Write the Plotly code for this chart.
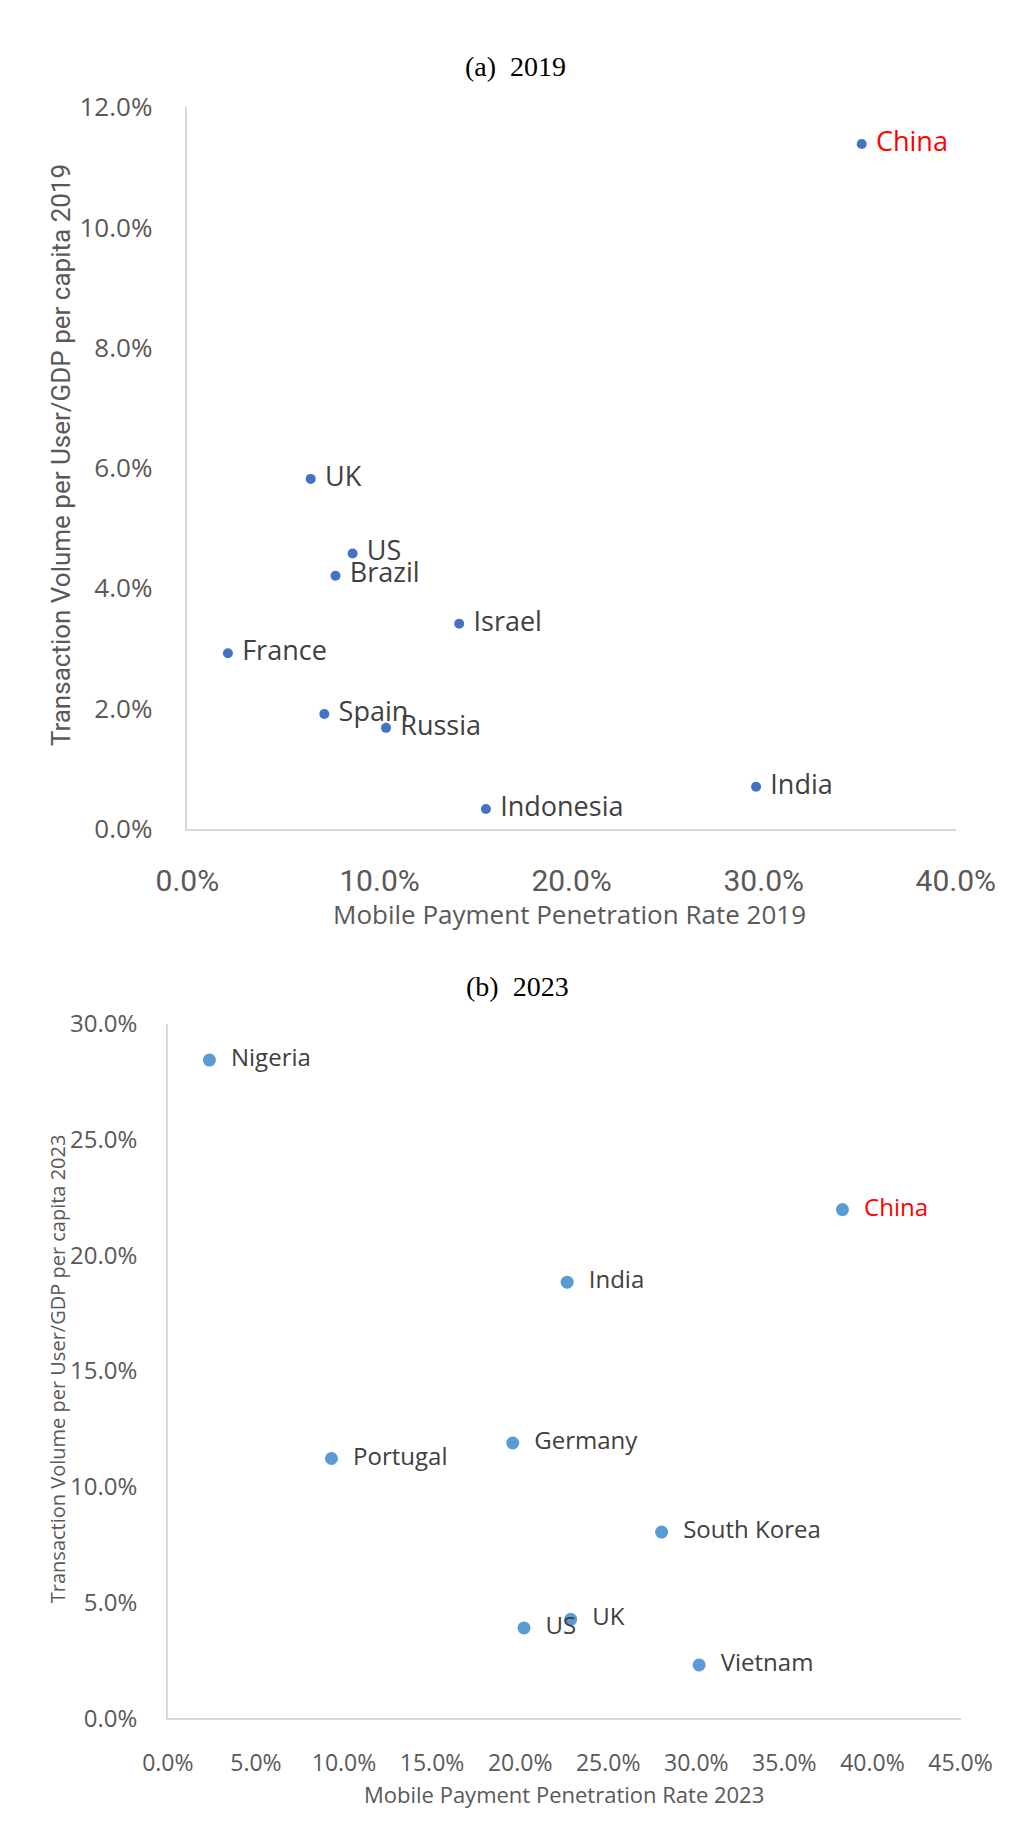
import plotly.graph_objects as go

# ---- data (a) 2019 ----
countries_2019 = ["China", "UK", "US", "Brazil", "Israel", "France", "Spain", "Russia", "India", "Indonesia"]
penetration_2019 = [0.351, 0.0642, 0.086, 0.0771, 0.1415, 0.0211, 0.0713, 0.1034, 0.296, 0.1554]
volume_2019 = [0.1139, 0.0582, 0.0458, 0.0421, 0.0341, 0.0292, 0.0191, 0.0168, 0.0070, 0.0033]

# ---- data (b) 2023 ----
countries_2023 = ["Nigeria", "China", "India", "Portugal", "Germany", "South Korea", "US", "UK", "Vietnam"]
penetration_2023 = [0.0236, 0.383, 0.2267, 0.0929, 0.1958, 0.2803, 0.2022, 0.2287, 0.3016]
volume_2023 = [0.2844, 0.2198, 0.1884, 0.1122, 0.1189, 0.0804, 0.0390, 0.0427, 0.0230]

x_ticks_2019 = [0, 0.10, 0.20, 0.30, 0.40]
y_ticks_2019 = [0, 0.02, 0.04, 0.06, 0.08, 0.10, 0.12]
x_ticks_2023 = [0, 0.05, 0.10, 0.15, 0.20, 0.25, 0.30, 0.35, 0.40, 0.45]
y_ticks_2023 = [0, 0.05, 0.10, 0.15, 0.20, 0.25, 0.30]

W, H = 1034, 1843
LABEL = "#404040"
AX = "#595959"
LINE = "#D9D9D9"
NB = "\u00a0"


def px(x):
    return x / W


def py(y):
    return 1 - y / H


def lab_colors(names):
    return ["#FF0000" if n == "China" else LABEL for n in names]


fig = go.Figure()
fig.add_trace(go.Scatter(
    x=penetration_2019, y=volume_2019, mode="markers+text",
    text=countries_2019, texttemplate=NB + "%{text}", textposition="middle right",
    textfont=dict(family="Open Sans", size=27, color=lab_colors(countries_2019)),
    marker=dict(color="#4472C4", size=10),
    xaxis="x", yaxis="y", showlegend=False, cliponaxis=False, hoverinfo="skip",
))
fig.add_trace(go.Scatter(
    x=penetration_2023, y=volume_2023, mode="markers+text",
    text=countries_2023, texttemplate=NB + NB + "%{text}", textposition="middle right",
    textfont=dict(family="Open Sans", size=24, color=lab_colors(countries_2023)),
    marker=dict(color="#5B9BD5", size=13),
    xaxis="x2", yaxis="y2", showlegend=False, cliponaxis=False, hoverinfo="skip",
))

common = dict(showgrid=False, zeroline=False, showline=True, linecolor=LINE, linewidth=1.5,
              ticks="", fixedrange=True)

fig.update_layout(
    width=W, height=H,
    margin=dict(l=0, r=0, t=0, b=0),
    paper_bgcolor="white", plot_bgcolor="white",
    xaxis=dict(domain=[px(167), px(993)], range=[0, 0.40], tickvals=x_ticks_2019,
               tickformat=".1%", anchor="y", ticklabelstandoff=24,
               tickfont=dict(family="Roboto", size=30, color=AX), **common),
    yaxis=dict(domain=[py(826), py(90)], range=[0, 0.12], tickvals=y_ticks_2019,
               tickformat=".1%", anchor="x", ticklabelstandoff=28,
               tickfont=dict(family="Open Sans", size=26, color=AX), **common),
    xaxis2=dict(domain=[px(146), px(998)], range=[0, 0.45], tickvals=x_ticks_2023,
                tickformat=".1%", anchor="y2", ticklabelstandoff=24,
                tickfont=dict(family="Open Sans", size=23, color=AX), **common),
    yaxis2=dict(domain=[py(1733), py(1025)], range=[0, 0.30], tickvals=y_ticks_2023,
                tickformat=".1%", anchor="x2", ticklabelstandoff=24,
                tickfont=dict(family="Open Sans", size=24, color=AX), **common),
)

annotations = [
    dict(text="(a)  2019", x=px(520), y=py(48), font=dict(family="Liberation Serif", size=28, color="black")),
    dict(text="(b)  2023", x=px(522), y=py(987), font=dict(family="Liberation Serif", size=28, color="black")),
    dict(text="Mobile Payment Penetration Rate 2019", x=px(578), y=py(913),
         font=dict(family="Open Sans", size=26, color=AX)),
    dict(text="Transaction Volume per User/GDP per capita 2019", x=px(31), y=py(445), textangle=-90,
         font=dict(family="Roboto", size=26, color=AX)),
    dict(text="Mobile Payment Penetration Rate 2023", x=px(572), y=py(1810),
         font=dict(family="Open Sans", size=22, color=AX)),
    dict(text="Transaction Volume per User/GDP per capita 2023", x=px(27), y=py(1377), textangle=-90,
         font=dict(family="Open Sans", size=20, color=AX)),
]
for a in annotations:
    a.update(xref="paper", yref="paper", showarrow=False, xanchor="center", yanchor="middle")
fig.update_layout(annotations=annotations)

fig.write_html("out.html")
